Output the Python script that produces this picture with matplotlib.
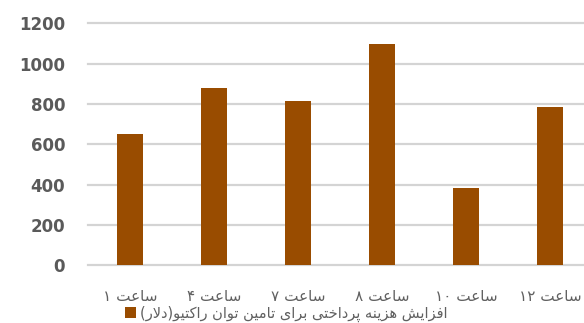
import matplotlib
matplotlib.use("Agg")
import matplotlib.pyplot as plt

# hourly extra cost for reactive power supply (dollars)
hours = ["۱", "۴", "۷", "۸", "۱۰", "۱۲"]
costs = [650, 880, 815, 1100, 385, 785]
yticks = [0, 200, 400, 600, 800, 1000, 1200]
word = "ساعت"
series_name = "افزایش هزینه پرداختی برای تامین توان راکتیو(دلار)"

# presentation forms: isolated, final, initial, medial (None = right-joining only)
FORMS = {
    "ا": (0xFE8D, 0xFE8E, None, None), "ب": (0xFE8F, 0xFE90, 0xFE91, 0xFE92),
    "پ": (0xFB56, 0xFB57, 0xFB58, 0xFB59), "ت": (0xFE95, 0xFE96, 0xFE97, 0xFE98),
    "خ": (0xFEA5, 0xFEA6, 0xFEA7, 0xFEA8), "د": (0xFEA9, 0xFEAA, None, None),
    "ر": (0xFEAD, 0xFEAE, None, None), "ز": (0xFEAF, 0xFEB0, None, None),
    "س": (0xFEB1, 0xFEB2, 0xFEB3, 0xFEB4), "ش": (0xFEB5, 0xFEB6, 0xFEB7, 0xFEB8),
    "ع": (0xFEC9, 0xFECA, 0xFECB, 0xFECC), "ف": (0xFED1, 0xFED2, 0xFED3, 0xFED4),
    "ک": (0xFB8E, 0xFB8F, 0xFB90, 0xFB91), "ل": (0xFEDD, 0xFEDE, 0xFEDF, 0xFEE0),
    "م": (0xFEE1, 0xFEE2, 0xFEE3, 0xFEE4), "ن": (0xFEE5, 0xFEE6, 0xFEE7, 0xFEE8),
    "ه": (0xFEE9, 0xFEEA, 0xFEEB, 0xFEEC), "و": (0xFEED, 0xFEEE, None, None),
    "ی": (0xFBFC, 0xFBFD, 0xFBFE, 0xFBFF),
}


def shape(text):
    out = []
    i = 0
    while i < len(text):
        ch = text[i]
        if ch not in FORMS:
            out.append(ch); i += 1; continue
        prev = text[i - 1] if i > 0 else ""
        joins_prev = prev in FORMS and FORMS[prev][2] is not None
        if ch == "ل" and i + 1 < len(text) and text[i + 1] == "ا":
            out.append(chr(0xFEFC if joins_prev else 0xFEFB)); i += 2; continue
        nxt = text[i + 1] if i + 1 < len(text) else ""
        joins_next = FORMS[ch][2] is not None and nxt in FORMS
        iso, fin, ini, med = FORMS[ch]
        code = med if joins_prev and joins_next else fin if joins_prev else ini if joins_next else iso
        out.append(chr(code)); i += 1
    return "".join(out)


def rtl(text):
    swap = {"(": ")", ")": "("}
    return "".join(swap.get(c, c) for c in shape(text)[::-1])


labels = [h + " " + rtl(word) for h in hours]

plt.rcParams["font.family"] = ["DejaVu Sans"]
fig = plt.figure(figsize=(5.84, 3.23), dpi=100)
ax = fig.add_axes([88 / 584, 58 / 323, 504 / 584, 241.5 / 323])

x = range(len(costs))
ax.bar(x, costs, width=0.32, color="#994c00", zorder=3, label=rtl(series_name))
ax.set_xlim(-0.5, len(costs) - 0.5)
ax.set_ylim(0, 1200)
ax.set_yticks(yticks)
ax.set_yticklabels([str(v) for v in yticks], fontsize=12, fontweight="bold", color="#5a5a5a")
ax.set_xticks(list(x))
ax.set_xticklabels(labels, fontsize=11, color="#606060")
ax.tick_params(axis="y", length=0, pad=16.5)
ax.tick_params(axis="x", length=0, pad=17)
ax.grid(axis="y", color="#d4d4d4", lw=1.6, zorder=0)
for gl in ax.get_ygridlines():
    gl.set_clip_on(False)
for s in ax.spines.values():
    s.set_visible(False)

fig.legend(loc="center", bbox_to_anchor=(286 / 584, 9 / 323), frameon=False,
           fontsize=10.5, handlelength=0.75, handleheight=0.75, handletextpad=0.3,
           labelcolor="#606060")

fig.savefig("out.png", dpi=100)
